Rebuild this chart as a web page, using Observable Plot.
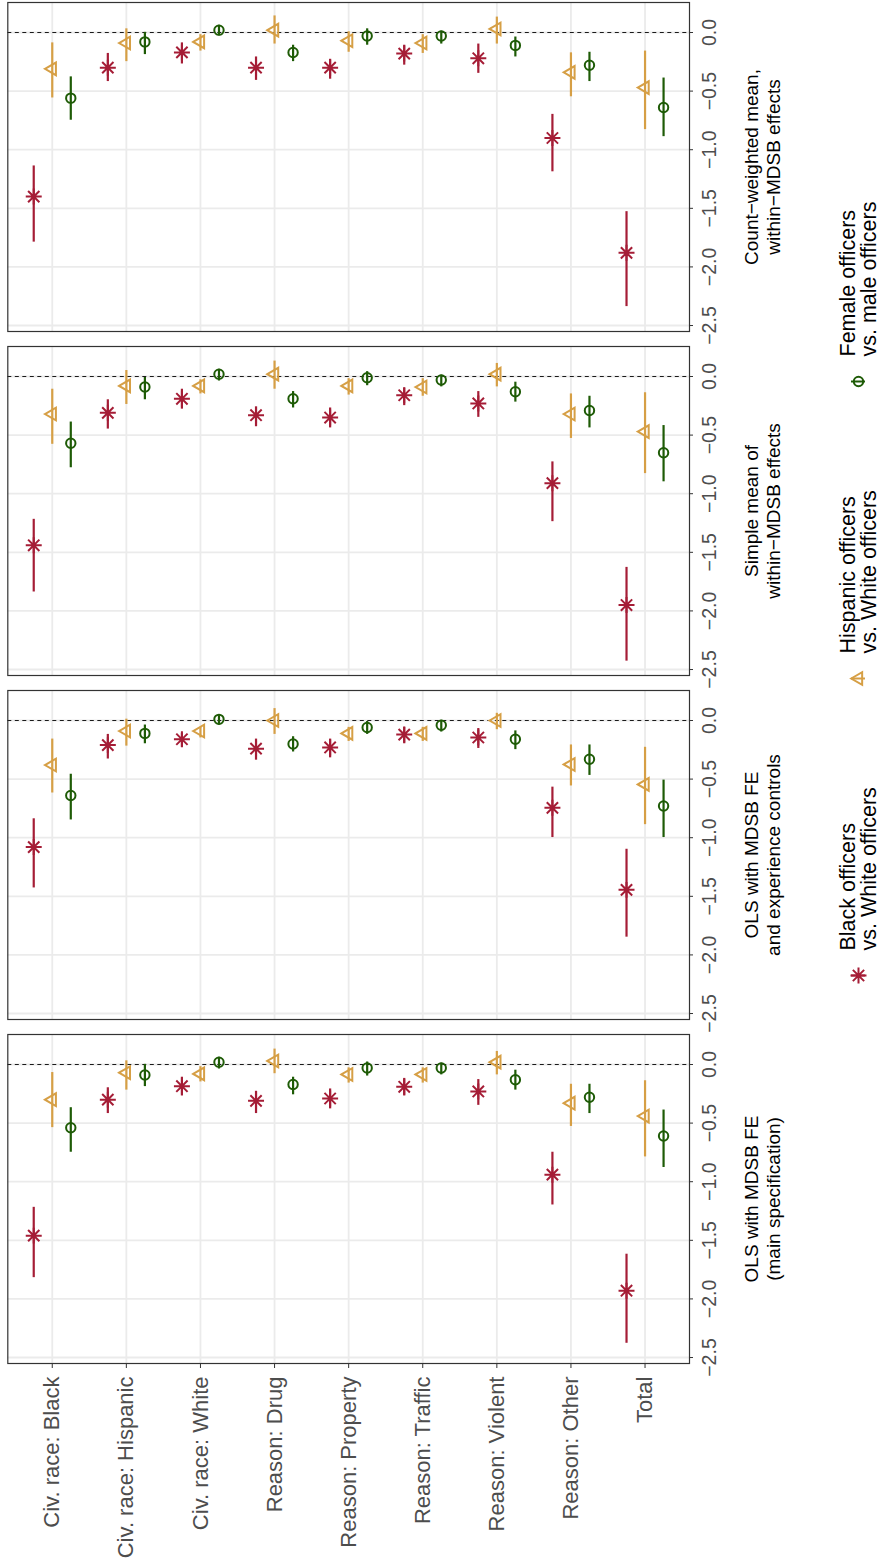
<!DOCTYPE html>
<html>
<head>
<meta charset="utf-8">
<script src="https://cdn.jsdelivr.net/npm/d3@7"></script>
<script src="https://cdn.jsdelivr.net/npm/@observablehq/plot@0.6"></script>
<style>
  html, body { margin: 0; padding: 0; background: #fff; overflow: hidden; }
  #wrap {
    position: absolute; left: 0; top: 0;
    width: 1568px; height: 882px;
    transform-origin: 0 0;
    transform: translate(0px, 1568px) rotate(-90deg);
    background: #fff;
  }
  #wrap svg { display: block; }
</style>
</head>
<body>
<div id="wrap"></div>
<script>
// ---------- data ----------
const categories = ["Civ. race: Black", "Civ. race: Hispanic", "Civ. race: White",
  "Reason: Drug", "Reason: Property", "Reason: Traffic", "Reason: Violent",
  "Reason: Other", "Total"];

const seriesKeys = ["black", "hispanic", "female"];
const seriesLabels = ["Black officers\nvs. White officers",
  "Hispanic officers\nvs. White officers",
  "Female officers\nvs. male officers"];
const seriesColors = ["#A51D36", "#D69F45", "#1E5B06"];

const facetKeys = ["main", "experience", "simple", "count"];
const facetLabels = ["OLS with MDSB FE\n(main specification)",
  "OLS with MDSB FE\nand experience controls",
  "Simple mean of\nwithin\u2212MDSB effects",
  "Count\u2212weighted mean,\nwithin\u2212MDSB effects"];

const valueTicks = [-2.5, -2.0, -1.5, -1.0, -0.5, 0.0];

// [estimate, CI end, CI end] per category
const mainBlack = [[-1.46,-1.21,-1.81],[-0.30,-0.19,-0.41],[-0.185,-0.10,-0.26],[-0.31,-0.22,-0.41],[-0.29,-0.20,-0.37],[-0.19,-0.11,-0.26],[-0.23,-0.12,-0.34],[-0.94,-0.74,-1.19],[-1.93,-1.61,-2.37]];
const mainHisp  = [[-0.30,-0.06,-0.53],[-0.07,0.04,-0.21],[-0.08,-0.01,-0.14],[0.03,0.14,-0.07],[-0.085,-0.02,-0.15],[-0.085,-0.02,-0.15],[0.02,0.12,-0.08],[-0.33,-0.16,-0.52],[-0.44,-0.13,-0.78]];
const mainFemale= [[-0.54,-0.36,-0.74],[-0.09,0.01,-0.18],[0.02,0.07,-0.03],[-0.17,-0.10,-0.25],[-0.03,0.03,-0.09],[-0.03,0.02,-0.08],[-0.13,-0.04,-0.21],[-0.28,-0.16,-0.41],[-0.61,-0.38,-0.87]];

const expBlack  = [[-1.08,-0.83,-1.42],[-0.21,-0.11,-0.32],[-0.16,-0.10,-0.22],[-0.24,-0.15,-0.33],[-0.23,-0.15,-0.31],[-0.12,-0.05,-0.19],[-0.145,-0.06,-0.23],[-0.745,-0.56,-0.99],[-1.445,-1.09,-1.84]];
const expHisp   = [[-0.38,-0.15,-0.61],[-0.09,0.02,-0.21],[-0.09,-0.05,-0.14],[0.0,0.11,-0.11],[-0.11,-0.05,-0.17],[-0.11,-0.05,-0.17],[0.0,0.07,-0.07],[-0.375,-0.20,-0.55],[-0.545,-0.22,-0.88]];
const expFemale = [[-0.64,-0.45,-0.84],[-0.11,-0.03,-0.19],[0.01,0.05,-0.03],[-0.20,-0.13,-0.26],[-0.06,0.0,-0.11],[-0.04,0.01,-0.09],[-0.16,-0.08,-0.24],[-0.33,-0.20,-0.46],[-0.73,-0.50,-0.99]];

const simpleBlack  = [[-1.44,-1.21,-1.83],[-0.31,-0.19,-0.44],[-0.19,-0.10,-0.27],[-0.33,-0.25,-0.42],[-0.35,-0.26,-0.43],[-0.16,-0.09,-0.24],[-0.23,-0.12,-0.34],[-0.91,-0.72,-1.23],[-1.95,-1.62,-2.42]];
const simpleHisp   = [[-0.32,-0.10,-0.57],[-0.08,0.06,-0.23],[-0.08,-0.02,-0.14],[0.02,0.14,-0.10],[-0.08,-0.01,-0.15],[-0.09,-0.01,-0.16],[0.02,0.12,-0.08],[-0.32,-0.14,-0.52],[-0.47,-0.13,-0.82]];
const simpleFemale = [[-0.57,-0.38,-0.77],[-0.09,0.0,-0.19],[0.02,0.07,-0.03],[-0.19,-0.12,-0.26],[-0.01,0.05,-0.07],[-0.03,0.02,-0.08],[-0.13,-0.04,-0.21],[-0.29,-0.16,-0.43],[-0.65,-0.41,-0.89]];

const countBlack  = [[-1.40,-1.13,-1.78],[-0.30,-0.17,-0.41],[-0.17,-0.08,-0.26],[-0.30,-0.20,-0.40],[-0.30,-0.22,-0.39],[-0.18,-0.10,-0.27],[-0.22,-0.09,-0.34],[-0.90,-0.69,-1.18],[-1.88,-1.52,-2.33]];
const countHisp   = [[-0.31,-0.08,-0.55],[-0.09,0.04,-0.24],[-0.08,-0.01,-0.15],[0.02,0.15,-0.09],[-0.07,0.015,-0.16],[-0.09,-0.01,-0.17],[0.03,0.14,-0.09],[-0.34,-0.165,-0.54],[-0.47,-0.15,-0.82]];
const countFemale = [[-0.56,-0.37,-0.74],[-0.08,0.01,-0.18],[0.02,0.07,-0.02],[-0.17,-0.10,-0.24],[-0.03,0.04,-0.10],[-0.03,0.02,-0.09],[-0.11,-0.03,-0.20],[-0.28,-0.16,-0.41],[-0.64,-0.38,-0.88]];

// ---------- table built from the arrays ----------
const byFacet = [
  [mainBlack, mainHisp, mainFemale],
  [expBlack, expHisp, expFemale],
  [simpleBlack, simpleHisp, simpleFemale],
  [countBlack, countHisp, countFemale]
];
const dodge = 0.25;
const rows = facetKeys.flatMap((f, fi) =>
  byFacet[fi].flatMap((arr, si) =>
    arr.map(([est, a, b], ci) => ({
      facet: f, series: seriesKeys[si], pos: ci + (si - 1) * dodge, est, a, b
    }))));

// ggplot-like asterisk (plus + cross)
const asterisk = {
  draw(ctx, size) {
    const r = Math.sqrt(size / Math.PI) * 1.7;
    const d = r * Math.SQRT1_2;
    ctx.moveTo(-r, 0); ctx.lineTo(r, 0);
    ctx.moveTo(0, -r); ctx.lineTo(0, r);
    ctx.moveTo(-d, -d); ctx.lineTo(d, d);
    ctx.moveTo(-d, d); ctx.lineTo(d, -d);
  }
};
const symbolScale = {domain: seriesKeys, range: [asterisk, d3.symbolTriangle, d3.symbolCircle]};
const colorScale = {domain: seriesKeys, range: seriesColors};
const FONT = "'Liberation Sans', Arial, Helvetica, sans-serif";

const chart = Plot.plot({
  width: 1568,
  height: 825,
  marginLeft: 203.7,
  marginRight: 1.7,
  marginTop: 7.3,
  marginBottom: 136,
  style: {background: "white", fontFamily: FONT, fontSize: "19px", overflow: "visible"},
  fx: {domain: facetKeys, paddingInner: 14.7 / 344.2, paddingOuter: 0, axis: null},
  x: {domain: [-2.551, 0.256]},
  y: {domain: [categories.length - 1 + 0.6, -0.6]},
  color: colorScale,
  symbol: symbolScale,
  marks: [
    Plot.gridX({ticks: valueTicks, stroke: "#EBEBEB", strokeOpacity: 1, strokeWidth: 1.8}),
    Plot.gridY({ticks: d3.range(categories.length), stroke: "#EBEBEB", strokeOpacity: 1, strokeWidth: 1.8}),
    Plot.ruleX([0], {stroke: "#1a1a1a", strokeDasharray: "4,3.5", strokeWidth: 1}),
    Plot.ruleY(rows, {fx: "facet", y: "pos", x1: "a", x2: "b", stroke: "series", strokeWidth: 2.2}),
    Plot.dot(rows, {fx: "facet", x: "est", y: "pos", symbol: "series", stroke: "series",
      fill: "none", r: 4.7, strokeWidth: 2}),
    Plot.frame({stroke: "#333333", strokeWidth: 1.2}),
    Plot.axisX({ticks: valueTicks, tickFormat: d3.format(".1f"), tickSize: 4, tickPadding: 8.5,
      fontSize: 19.5, stroke: "#333333", fill: "#4D4D4D", label: null}),
    Plot.axisY({ticks: d3.range(categories.length), tickFormat: i => categories[i],
      tickSize: 4, tickPadding: 9, fontSize: 22, stroke: "#333333", fill: "#4D4D4D", label: null}),
    Plot.text(facetKeys, {fx: d => d, text: (d, i) => facetLabels[i], frameAnchor: "bottom",
      lineAnchor: "top", dy: 53, fontSize: 19, lineHeight: 1.16, fill: "black"})
  ]
});

const legend = Plot.plot({
  width: 1568,
  height: 57,
  marginTop: 26,
  marginBottom: 17,
  marginLeft: 0,
  marginRight: 0,
  style: {background: "white", fontFamily: FONT, fontSize: "22px", overflow: "visible"},
  x: {type: "point", domain: seriesKeys, range: [591, 1186], padding: 0, axis: null},
  color: colorScale,
  symbol: symbolScale,
  marks: [
    Plot.ruleX(seriesKeys, {x: d => d, stroke: d => d, strokeWidth: 2}),
    Plot.dot(seriesKeys, {x: d => d, frameAnchor: "middle", symbol: d => d, stroke: d => d,
      fill: "none", r: 4.7, strokeWidth: 2}),
    Plot.text(seriesKeys, {x: d => d, text: (d, i) => seriesLabels[i], frameAnchor: "middle",
      textAnchor: "start", dx: 25, fontSize: 21.5, lineHeight: 0.98, fill: "black"})
  ]
});

const wrap = document.getElementById("wrap");
wrap.appendChild(chart);
wrap.appendChild(legend);
</script>
</body>
</html>
